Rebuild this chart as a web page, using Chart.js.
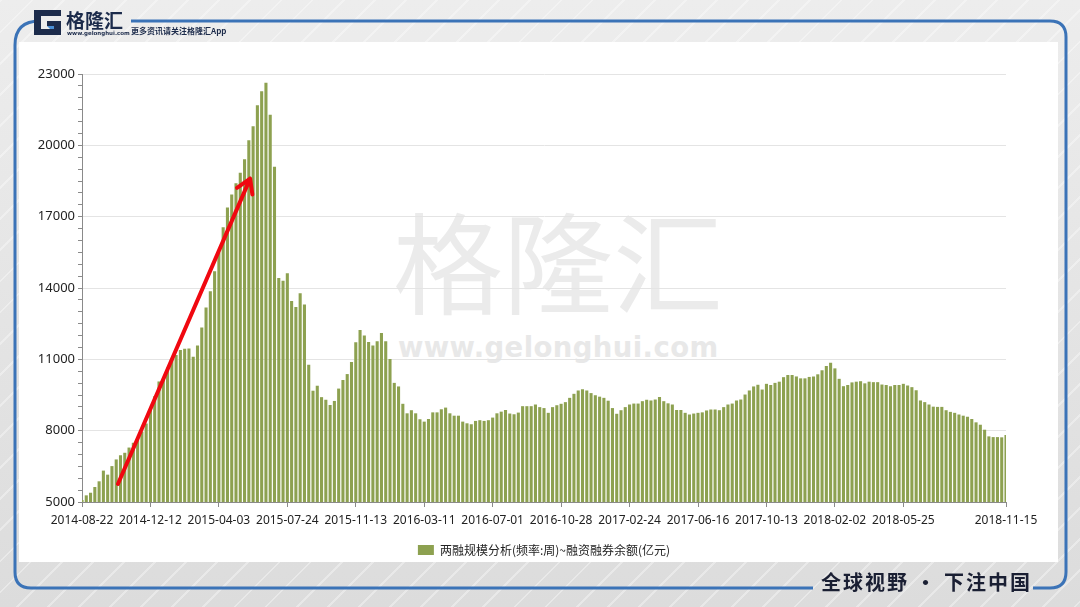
<!DOCTYPE html>
<html>
<head>
<meta charset="utf-8">
<script src="https://cdn.jsdelivr.net/npm/chart.js@4.4.1/dist/chart.umd.min.js"></script>
<style>
    html, body { margin: 0; padding: 0; }
    body {
        width: 1080px; height: 607px; overflow: hidden; position: relative;
        font-family: 'Noto Sans CJK SC', 'Noto Sans', sans-serif;
        background:
            repeating-linear-gradient(135deg, rgba(255,255,255,0.35) 0 2px, rgba(255,255,255,0) 2px 22px),
            linear-gradient(180deg, #ededed, #dcdcdc);
    }
    #panel { position: absolute; left: 19px; top: 42px; width: 1039px; height: 520px; background: #fff; }
    #wm1 { position: absolute; left: 393px; top: 178px; font-size: 110px; color: #ebebeb; line-height: 160px; }
    #wm2 { position: absolute; left: 398px; top: 331px; font-family: 'DejaVu Sans', sans-serif; font-weight: bold; font-size: 27.5px; color: #e8e8e8; letter-spacing: 0.4px; }
    #chart { position: absolute; left: 0; top: 0; }
    #frame { position: absolute; left: 0; top: 0; }
    #logoText { position: absolute; left: 66px; top: 6px; font-size: 19px; font-weight: bold; color: #1c2b4b; }
    #logoUrl { position: absolute; left: 67px; top: 30px; font-family: 'DejaVu Sans', sans-serif; font-size: 5.5px; font-weight: bold; color: #1c2b4b; }
    #slogan { position: absolute; left: 131px; top: 25px; font-size: 8px; font-weight: bold; color: #1c2b4b; }
    #footer { position: absolute; left: 821px; top: 567px; font-size: 20px; font-weight: bold; color: #1a1f33; letter-spacing: 2px; }
</style>
</head>
<body>
<div id="panel"></div>
<div id="wm1">格隆汇</div>
<div id="wm2">www.gelonghui.com</div>
<canvas id="chart" width="1080" height="607"></canvas>
<svg id="frame" width="1080" height="607">
    <path d="M 40 21 Q 15 21 15 45 V 572 Q 15 588 31 588 H 813" fill="none" stroke="#3b73b7" stroke-width="3"/>
    <path d="M 1033 588 H 1050 Q 1066 588 1066 572 V 37 Q 1066 21 1050 21 H 131" fill="none" stroke="#3b73b7" stroke-width="3"/>
    <g transform="translate(34,10)">
        <rect x="0" y="0" width="27" height="25" fill="#ececec"/>
        <rect x="0" y="0" width="27" height="6" fill="#1c2b4b"/>
        <rect x="0" y="0" width="7" height="25" fill="#1c2b4b"/>
        <rect x="0" y="19" width="27" height="6" fill="#1c2b4b"/>
        <rect x="20" y="11" width="7" height="14" fill="#1c2b4b"/>
        <rect x="13" y="11" width="14" height="5" fill="#1c2b4b"/>
        <polygon points="13,16 20,16 20,19 16,19" fill="#4a8fd6"/>
    </g>
</svg>
<div id="logoText">格隆汇</div>
<div id="logoUrl">www.gelonghui.com</div>
<div id="slogan">更多资讯请关注格隆汇App</div>
<div id="footer">全球视野 · 下注中国</div>

<script>
// weekly balance, 亿元
const values = [
    5080, 5280, 5390, 5630, 5870, 6320, 6150, 6510, 6790, 6970,
    7070, 7290, 7490, 7670, 7960, 8300, 8870, 9450, 10070, 10150,
    10650, 11000, 11180, 11390, 11440, 11460, 11110, 11580, 12340, 13180,
    13860, 14700, 15490, 16550, 17390, 17930, 18410, 18850, 19410, 20210,
    20800, 21690, 22270, 22630, 21290, 19100, 14420, 14300, 14620, 13450,
    13200, 13780, 13310, 10770, 9680, 9890, 9410, 9300, 9080, 9250,
    9770, 10130, 10380, 10890, 11720, 12230, 12000, 11730, 11580, 11760,
    12110, 11760, 11010, 10010, 9860, 9130, 8730, 8860, 8730, 8480,
    8380, 8490, 8770, 8770, 8900, 8970, 8730, 8630, 8630, 8380,
    8310, 8270, 8410, 8440, 8410, 8440, 8550, 8730, 8800, 8870,
    8720, 8690, 8760, 9030, 9030, 9030, 9100, 8990, 8950, 8750,
    8990, 9070, 9130, 9200, 9380, 9550, 9690, 9740, 9690, 9580,
    9490, 9430, 9380, 9260, 8950, 8710, 8860, 8990, 9100, 9140,
    9140, 9240, 9300, 9270, 9310, 9420, 9240, 9150, 9100, 8870,
    8870, 8750, 8680, 8720, 8750, 8770, 8850, 8890, 8890, 8860,
    8990, 9100, 9140, 9270, 9310, 9520, 9690, 9860, 9930, 9730,
    9970, 9920, 10010, 10060, 10250, 10340, 10340, 10280, 10200, 10200,
    10260, 10280, 10370, 10540, 10720, 10860, 10620, 10180, 9870, 9920,
    10030, 10060, 10080, 9990, 10060, 10040, 10040, 9940, 9920, 9870,
    9920, 9920, 9970, 9900, 9830, 9700, 9270, 9200, 9100, 9010,
    9000, 9000, 8860, 8790, 8750, 8680, 8630, 8590, 8490, 8350,
    8250, 8040, 7760, 7730, 7730, 7720, 7820
];

const tickLabels = ['2014-08-22', '2014-12-12', '2015-04-03', '2015-07-24', '2015-11-13', '2016-03-11', '2016-07-01',
    '2016-10-28', '2017-02-24', '2017-06-16', '2017-10-13', '2018-02-02', '2018-05-25', '2018-11-15'];
const tickPos = [0, 16, 32, 48, 64, 80, 96, 112, 128, 144, 160, 176, 192, 216];

const yMin = 5000;
const yMax = 23000;
const yStep = 500;
const yLabelStep = 3000;
const seriesName = '两融规模分析(频率:周)~融资融券余额(亿元)';

// red arrow, in [category index, value]
const arrowFrom = [8.4, 5760];
const arrowTo = [39.3, 18600];

let labels = values.map((v, i) => {
    let k = tickPos.indexOf(i);
    return k >= 0 ? tickLabels[k] : '';
});

const arrowPlugin = {
    id: 'redArrow',
    afterDatasetsDraw(chart) {
        let ctx = chart.ctx, xs = chart.scales.x, ys = chart.scales.y;
        let x0 = xs.getPixelForValue(arrowFrom[0]), y0 = ys.getPixelForValue(arrowFrom[1]);
        let x1 = xs.getPixelForValue(arrowTo[0]), y1 = ys.getPixelForValue(arrowTo[1]);
        let a = Math.atan2(y0 - y1, x0 - x1);
        ctx.save();
        ctx.strokeStyle = '#f00810';
        ctx.lineWidth = 4;
        ctx.lineCap = 'round';
        ctx.lineJoin = 'round';
        ctx.beginPath();
        ctx.moveTo(x0, y0);
        ctx.lineTo(x1, y1);
        ctx.moveTo(x1 + 16 * Math.cos(a + 0.55), y1 + 16 * Math.sin(a + 0.55));
        ctx.lineTo(x1, y1);
        ctx.lineTo(x1 + 16 * Math.cos(a - 0.55), y1 + 16 * Math.sin(a - 0.55));
        ctx.stroke();
        ctx.restore();
    }
};

Chart.defaults.font.family = "'Noto Sans', 'Noto Sans CJK SC', sans-serif";
Chart.defaults.color = '#222';

new Chart(document.getElementById('chart'), {
    type: 'bar',
    data: {
        labels: labels,
        datasets: [{
            label: seriesName,
            data: values,
            backgroundColor: '#8da150',
            barPercentage: 0.72,
            categoryPercentage: 1
        }]
    },
    options: {
        responsive: false,
        animation: false,
        layout: { padding: { left: 38, right: 74, top: 74, bottom: 41 } },
        plugins: {
            tooltip: { enabled: false },
            legend: {
                position: 'bottom',
                fullSize: false,
                labels: {
                    boxWidth: 16,
                    boxHeight: 10,
                    padding: 10,
                    color: '#222',
                    font: { size: 12, family: "'Noto Sans CJK SC', sans-serif" }
                }
            }
        },
        scales: {
            x: {
                offset: false,
                border: { color: '#8a8a8a' },
                grid: {
                    offset: false,
                    drawOnChartArea: false,
                    tickLength: 5,
                    color: c => labels[c.index] ? '#8a8a8a' : 'rgba(0,0,0,0)'
                },
                ticks: { autoSkip: false, maxRotation: 0, minRotation: 0, padding: 6, font: { size: 12 } },
                afterFit: s => { s.height = 32; }
            },
            y: {
                min: yMin,
                max: yMax,
                border: { color: '#8a8a8a' },
                grid: {
                    tickLength: 4,
                    tickColor: '#8a8a8a',
                    color: c => c.tick && (c.tick.value - yMin) % yLabelStep === 0 ? '#e4e4e4' : 'rgba(0,0,0,0)'
                },
                ticks: {
                    stepSize: yStep,
                    autoSkip: false,
                    padding: 3,
                    font: { size: 13 },
                    callback: v => (v - yMin) % yLabelStep === 0 ? v : ''
                },
                afterFit: s => { s.width = 44; }
            }
        }
    },
    plugins: [arrowPlugin]
});
</script>
</body>
</html>
